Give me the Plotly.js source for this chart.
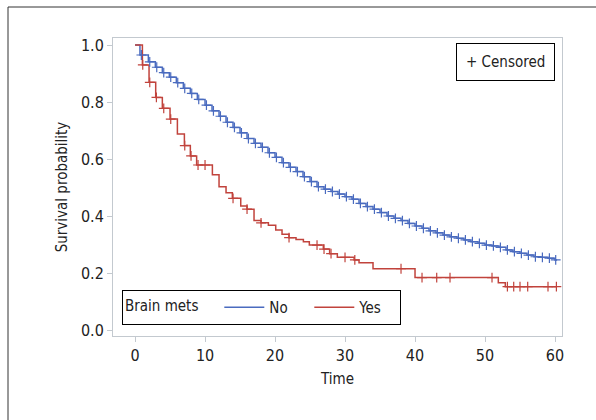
<!DOCTYPE html>
<html>
<head>
<meta charset="utf-8">
<script src="https://cdn.plot.ly/plotly-3.0.1.min.js"></script>
<style>
  html, body { margin: 0; padding: 0; background: #ffffff; }
  #chart { width: 596px; height: 420px; }
</style>
</head>
<body>
<div id="chart"></div>
<script>
// ---- Data (Kaplan-Meier estimates) ----
const groupTitle = "Brain mets";
const groupNames = ["No", "Yes"];

// Group "No"
const noTimes = [0, 0.7, 1.9, 2.9, 3.9, 4.9, 5.9, 6.9, 7.9, 8.9, 10.0, 11.0, 12.0, 13.0, 14.0, 15.0,
  16.0, 17.0, 18.0, 19.0, 20.0, 21.0, 22.0, 23.0, 24.0, 25.0, 26.0, 27.0, 28.0, 29.0, 30.0, 31.0,
  32.0, 33.0, 34.0, 35.0, 36.0, 37.0, 38.0, 39.0, 40.0, 41.0, 42.0, 43.0, 44.0, 45.0, 46.0, 47.0,
  48.0, 49.0, 50.0, 51.0, 52.0, 53.0, 54.0, 55.0, 56.0, 57.0, 58.0, 59.0, 60.0, 60.3];
const noSurv = [1.0, 0.965, 0.941, 0.922, 0.903, 0.887, 0.868, 0.848, 0.830, 0.809, 0.789, 0.769,
  0.750, 0.729, 0.711, 0.692, 0.672, 0.655, 0.641, 0.622, 0.606, 0.587, 0.571, 0.556, 0.538, 0.521,
  0.503, 0.494, 0.486, 0.477, 0.468, 0.459, 0.444, 0.433, 0.424, 0.412, 0.400, 0.392, 0.384, 0.374,
  0.365, 0.357, 0.348, 0.341, 0.333, 0.327, 0.322, 0.316, 0.310, 0.304, 0.298, 0.295, 0.290, 0.281,
  0.275, 0.269, 0.263, 0.257, 0.255, 0.252, 0.246, 0.246];
const noCensored = [0.9, 2.1, 3.1, 4.1, 5.1, 6.1, 7.1, 8.1, 9.1, 10.2, 11.2, 12.2, 13.2, 14.2, 15.2,
  16.2, 17.2, 18.2, 19.2, 20.2, 21.2, 22.2, 23.2, 24.2, 25.2, 26.2, 27.2, 28.2, 29.2, 30.2, 31.2,
  32.2, 33.2, 34.2, 35.2, 36.2, 37.2, 38.2, 39.2, 40.2, 41.2, 42.2, 43.2, 44.2, 45.2, 46.2, 47.2,
  48.2, 49.2, 50.2, 51.2, 52.2, 53.2, 54.2, 55.2, 56.2, 57.2, 58.2, 59.2, 60.1];

// Group "Yes"
const yesTimes = [0, 1.05, 2.0, 2.95, 3.9, 5.0, 6.05, 7.05, 7.9, 8.8, 11.05, 12.0, 13.0, 13.9, 15.1,
  16.0, 17.0, 18.0, 19.05, 20.1, 21.0, 22.0, 23.0, 24.05, 24.9, 26.9, 27.8, 28.9, 31.3, 32.0, 34.0,
  40.0, 51.9, 52.9, 60.3];
const yesSurv = [1.0, 0.93, 0.869, 0.816, 0.778, 0.740, 0.688, 0.647, 0.611, 0.579, 0.545, 0.503,
  0.482, 0.462, 0.435, 0.424, 0.384, 0.376, 0.368, 0.351, 0.336, 0.324, 0.318, 0.310, 0.298, 0.284,
  0.268, 0.255, 0.246, 0.236, 0.215, 0.184, 0.166, 0.152, 0.152];
const yesCensored = [1.1, 2.1, 3.05, 4.1, 5.1, 7.1, 8.0, 9.0, 10.0, 14.0, 16.0, 18.0, 22.0, 26.0,
  27.0, 28.0, 30.0, 31.4, 38.0, 41.0, 43.1, 45.0, 51.0, 53.2, 54.1, 55.0, 56.1, 59.0, 60.2];

const xTicks = [0, 10, 20, 30, 40, 50, 60];
const yTicks = [0.0, 0.2, 0.4, 0.6, 0.8, 1.0];
const yTickLabels = ["0.0", "0.2", "0.4", "0.6", "0.8", "1.0"];

// ---- Styles ----
const colors = ["#4a6bbf", "#c1433c"];
const FONT = '"DejaVu Sans Condensed", "Liberation Sans Narrow", sans-serif';
const TXT = "#222222";
const axisGray = "#c3c9cf";

function stepValue(times, surv, t) {
  let v = surv[0];
  for (let i = 0; i < times.length; i++) { if (times[i] <= t) v = surv[i]; }
  return v;
}

const groups = [
  { times: noTimes, surv: noSurv, cens: noCensored },
  { times: yesTimes, surv: yesSurv, cens: yesCensored }
];

const traces = [];
groups.forEach((g, i) => {
  traces.push({
    type: "scatter", mode: "lines", x: g.times, y: g.surv,
    line: { shape: "hv", color: colors[i], width: 1.5 },
    name: groupNames[i], showlegend: true, hoverinfo: "skip"
  });
});
groups.forEach((g, i) => {
  traces.push({
    type: "scatter", mode: "markers", x: g.cens,
    y: g.cens.map(t => stepValue(g.times, g.surv, t)),
    marker: { symbol: "cross-thin", size: 7, line: { color: colors[i], width: 1.2 } },
    showlegend: false, hoverinfo: "skip"
  });
});

const L = 113, R = 562, T = 38, B = 336, W = 596, H = 420;
const px2x = p => (p - L) / (R - L);
const px2y = p => (B - p) / (B - T);

const layout = {
  width: W, height: H,
  margin: { l: L, r: W - R, t: T, b: H - B, pad: 0 },
  paper_bgcolor: "#ffffff", plot_bgcolor: "#ffffff",
  font: { family: FONT, size: 15, color: TXT },
  showlegend: true,
  xaxis: {
    range: [-3.15, 61.0], tickvals: xTicks, ticktext: xTicks.map(String),
    showgrid: false, zeroline: false, showline: true, mirror: true, linecolor: axisGray, linewidth: 1,
    ticks: "outside", ticklen: 5, tickcolor: axisGray, tickfont: { family: FONT, size: 16, color: TXT },
    title: { text: "Time", font: { family: FONT, size: 15, color: TXT }, standoff: 9 }
  },
  yaxis: {
    range: [-0.021, 1.0246], tickvals: yTicks, ticktext: yTickLabels,
    showgrid: false, zeroline: false, showline: true, mirror: true, linecolor: axisGray, linewidth: 1,
    ticks: "outside", ticklen: 5, tickcolor: axisGray, tickfont: { family: FONT, size: 16, color: TXT },
    title: { text: "Survival probability", font: { family: FONT, size: 15, color: TXT }, standoff: 9 }
  },
  legend: {
    orientation: "h", x: px2x(122), y: px2y(325), xanchor: "left", yanchor: "bottom",
    bgcolor: "#ffffff", bordercolor: "#000000", borderwidth: 1,
    font: { family: FONT, size: 15, color: TXT },
    title: { text: groupTitle + "   ", side: "left", font: { family: FONT, size: 15, color: TXT } },
    itemwidth: 40, entrywidth: 35, entrywidthmode: "pixels", tracegroupgap: 0
  },
  annotations: [{
    xref: "paper", yref: "paper", x: px2x(555), y: px2y(43), xanchor: "right", yanchor: "top",
    text: "+ Censored", showarrow: false, font: { family: FONT, size: 15, color: TXT },
    bordercolor: "#000000", borderwidth: 1, borderpad: 9, bgcolor: "#ffffff"
  }],
  shapes: [{
    type: "path", xref: "paper", yref: "paper",
    path: "M " + px2x(8) + " " + px2y(430) + " L " + px2x(8) + " " + px2y(7) + " L " + px2x(610) + " " + px2y(7),
    line: { color: "#333333", width: 1 }
  }]
};

Plotly.newPlot("chart", traces, layout, { staticPlot: true, displayModeBar: false });
</script>
</body>
</html>
